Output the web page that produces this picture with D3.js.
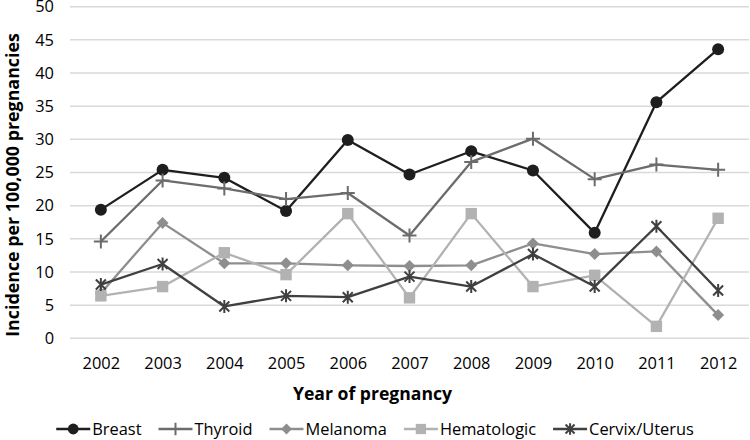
<!DOCTYPE html>
<html>
<head>
<meta charset="utf-8">
<script src="https://cdn.jsdelivr.net/npm/d3@7"></script>
<style>
    body { margin: 0; background: #fff; }
    text { font-family: 'Open Sans', sans-serif; fill: #000; }
</style>
</head>
<body>
<div id="myChart"></div>
<script>
// data
let years = ['2002', '2003', '2004', '2005', '2006', '2007', '2008', '2009', '2010', '2011', '2012'];
let breast = [19.4, 25.4, 24.2, 19.2, 29.9, 24.7, 28.2, 25.3, 15.9, 35.6, 43.6];
let thyroid = [14.6, 23.8, 22.6, 21.0, 21.9, 15.5, 26.6, 30.1, 24.0, 26.2, 25.4];
let melanoma = [6.8, 17.4, 11.3, 11.3, 11.0, 10.9, 11.0, 14.3, 12.7, 13.1, 3.5];
let hematologic = [6.4, 7.8, 12.9, 9.6, 18.8, 6.1, 18.8, 7.8, 9.5, 1.8, 18.1];
let cervix = [8.1, 11.2, 4.8, 6.4, 6.2, 9.3, 7.8, 12.7, 7.8, 16.9, 7.2];
let yTicks = [0, 5, 10, 15, 20, 25, 30, 35, 40, 45, 50];

let series = [
    { name: 'Breast', values: breast, color: '#1e1e1e', marker: 'circle' },
    { name: 'Thyroid', values: thyroid, color: '#6c6c6c', marker: 'plus' },
    { name: 'Melanoma', values: melanoma, color: '#8e8e8e', marker: 'diamond' },
    { name: 'Hematologic', values: hematologic, color: '#b2b2b2', marker: 'square' },
    { name: 'Cervix/Uterus', values: cervix, color: '#404040', marker: 'star' },
];

let width = 750,
    height = 440;

let svg = d3
    .select('#myChart')
    .append('svg')
    .attr('width', width)
    .attr('height', height);

let x = d3.scalePoint().domain(years).range([70, 749]).padding(0.5);
let y = d3.scaleLinear().domain([0, 50]).range([338.3, 6.7]);

// gridlines
svg.append('g')
    .selectAll('line')
    .data(yTicks)
    .enter()
    .append('line')
    .attr('x1', 70)
    .attr('x2', 749)
    .attr('y1', (d) => y(d))
    .attr('y2', (d) => y(d))
    .attr('stroke', '#d9d9d9')
    .attr('stroke-width', 1.5);

// y axis
let yAxis = svg.append('g')
    .attr('transform', 'translate(62,0)')
    .call(d3.axisLeft(y).tickValues(yTicks).tickSize(0).tickPadding(8));
yAxis.select('.domain').remove();
yAxis.selectAll('text')
    .style('font-family', "'Open Sans', sans-serif")
    .style('font-size', '16.4px')
    .attr('fill', '#000');

// x axis
let xAxis = svg.append('g')
    .attr('transform', 'translate(0,' + 350 + ')')
    .call(d3.axisBottom(x).tickSize(0).tickPadding(0));
xAxis.select('.domain').remove();
xAxis.selectAll('text')
    .style('font-family', "'Open Sans', sans-serif")
    .style('font-size', '16.4px')
    .attr('fill', '#000')
    .attr('dy', '1.15em');

// shrink a bold title until it is as long as in the picture
function fitText(sel, target) {
    let size = 24;
    sel.style('font-size', size + 'px');
    let len = sel.node().getComputedTextLength();
    size = size * target / len;
    sel.style('font-size', size + 'px');
}

let xTitle = svg.append('text')
    .attr('x', 372.5)
    .attr('y', 400)
    .style('text-anchor', 'middle')
    .style('font-weight', 'bold')
    .text('Year of pregnancy');
fitText(xTitle, 159);

let yTitle = svg.append('text')
    .attr('transform', 'translate(19,' + 185 + ') rotate(-90)')
    .style('text-anchor', 'middle')
    .style('font-weight', 'bold')
    .text('Incidence per 100,000 pregnancies');
fitText(yTitle, 304);

function drawMarker(g, type, color, s) {
    if (type === 'circle') {
        g.append('circle').attr('r', 6 * s).attr('fill', color);
    } else if (type === 'plus') {
        g.append('path')
            .attr('d', 'M' + -7 * s + ',0H' + 7 * s + 'M0,' + -7 * s + 'V' + 7 * s)
            .attr('stroke', color)
            .attr('stroke-width', 2);
    } else if (type === 'diamond') {
        g.append('path')
            .attr('d', 'M0,' + -6 * s + 'L' + 6 * s + ',0L0,' + 6 * s + 'L' + -6 * s + ',0Z')
            .attr('fill', color);
    } else if (type === 'square') {
        g.append('rect')
            .attr('x', -5.7 * s)
            .attr('y', -5.7 * s)
            .attr('width', 11.4 * s)
            .attr('height', 11.4 * s)
            .attr('fill', color);
    } else {
        let a = 5 * s,
            b = 6.5 * s;
        g.append('path')
            .attr('d', 'M' + -a + ',' + -a + 'L' + a + ',' + a + 'M' + -a + ',' + a + 'L' + a + ',' + -a + 'M0,' + -b + 'V' + b)
            .attr('stroke', color)
            .attr('stroke-width', 2);
    }
}

let line = d3
    .line()
    .x((d, i) => x(years[i]))
    .y((d) => y(d));

series.forEach(function (s) {
    let g = svg.append('g').attr('class', 'series');
    g.append('path')
        .datum(s.values)
        .attr('d', line)
        .attr('fill', 'none')
        .attr('stroke', s.color)
        .attr('stroke-width', 2.3)
        .attr('stroke-linejoin', 'round');
    s.values.forEach(function (v, i) {
        let m = g.append('g')
            .attr('transform', 'translate(' + x(years[i]) + ',' + y(v) + ')');
        drawMarker(m, s.marker, s.color, 1);
    });
});

// legend
let legend = svg.append('g').attr('class', 'legend');
let lx = 0;
series.forEach(function (s) {
    let item = legend.append('g').attr('transform', 'translate(' + lx + ',0)');
    item.append('line')
        .attr('x1', 0)
        .attr('x2', 34)
        .attr('stroke', s.color)
        .attr('stroke-width', 2.3);
    let m = item.append('g').attr('transform', 'translate(17,0)');
    drawMarker(m, s.marker, s.color, 0.9);
    let t = item.append('text')
        .attr('x', 36)
        .attr('dy', '0.36em')
        .style('font-size', '16.4px')
        .text(s.name);
    lx += 36 + t.node().getComputedTextLength() + 17;
});
lx -= 17;
legend.attr('transform', 'translate(' + (375 - lx / 2) + ',' + 429 + ')');
</script>
</body>
</html>
